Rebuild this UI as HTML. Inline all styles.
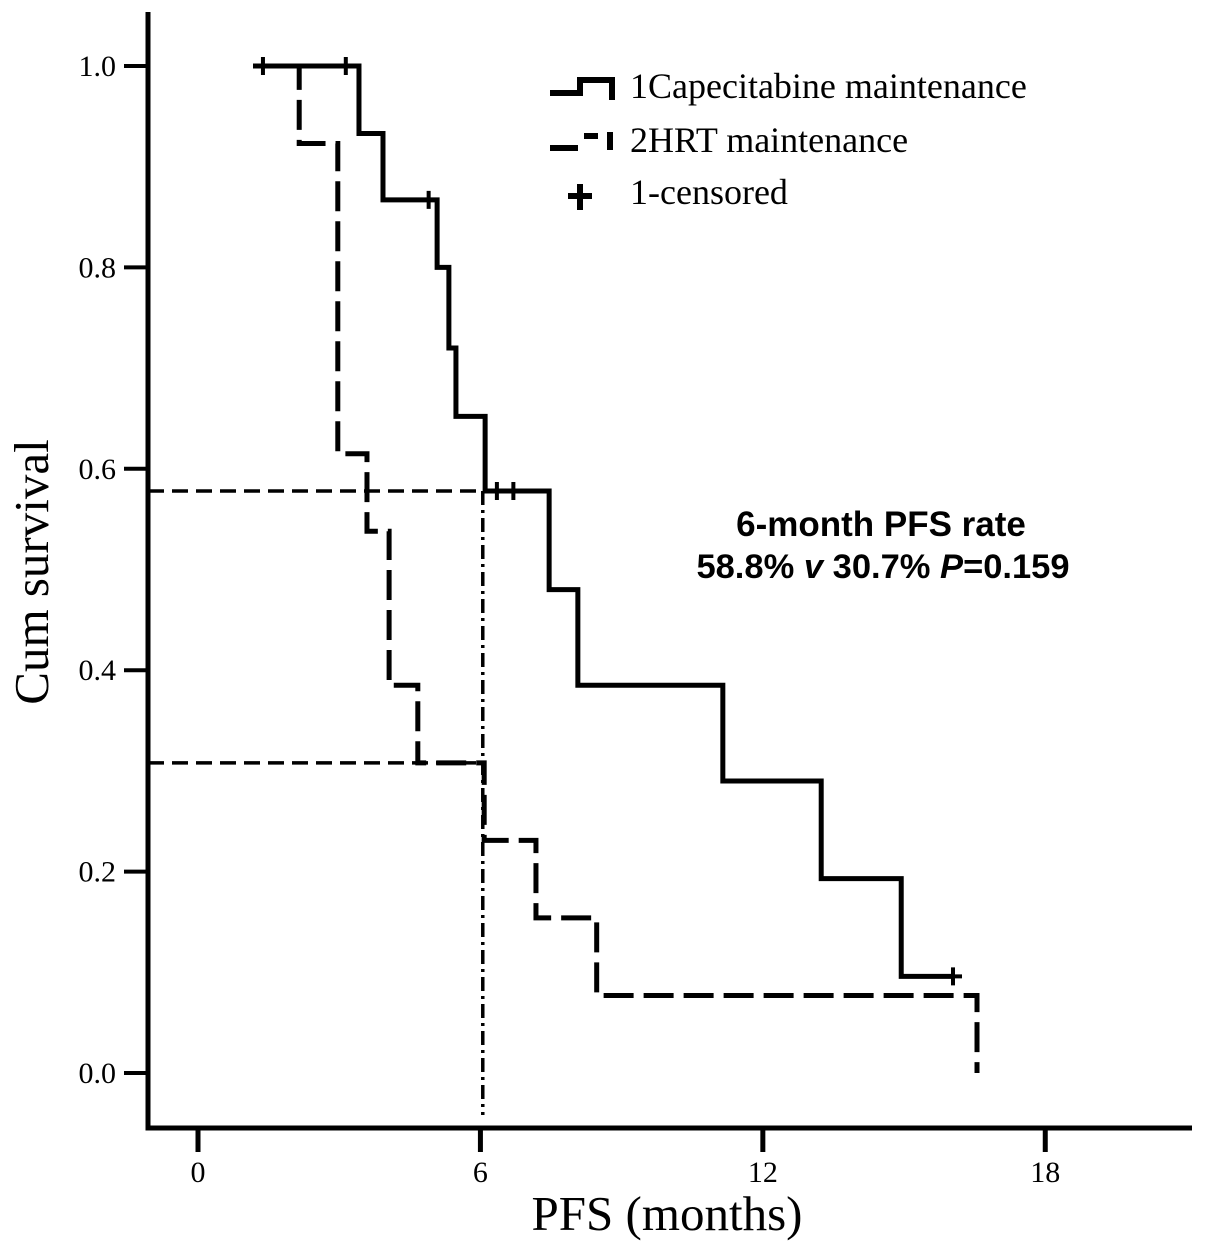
<!DOCTYPE html>
<html><head><meta charset="utf-8"><style>
html,body{margin:0;padding:0;background:#fff;}
svg{display:block;}
text{font-family:"Liberation Serif",serif;fill:#000;}
</style></head><body>
<svg id="chart" width="1205" height="1253" viewBox="0 0 1205 1253">
<g id="axes"></g>
<g id="plot"></g>
<g id="legend">
  <path d="M550,93 H580 V80 H612 V100" fill="none" stroke="#000" stroke-width="6"/>
  <text x="630" y="98" font-size="36">1Capecitabine maintenance</text>
  <path d="M550,148 H578 M584,136 H598 M610,132 V150" fill="none" stroke="#000" stroke-width="6"/>
  <text x="630" y="152" font-size="36">2HRT maintenance</text>
  <path d="M568,196 H592 M580,184 V210" stroke="#000" stroke-width="6"/>
  <text x="630" y="204" font-size="36">1-censored</text>
</g>
<text x="881" y="536" font-size="35" font-weight="bold" text-anchor="middle" style="font-family:'Liberation Sans',sans-serif">6-month PFS rate</text>
<text x="883" y="578" font-size="34.5" font-weight="bold" text-anchor="middle" style="font-family:'Liberation Sans',sans-serif">58.8% <tspan font-style="italic">v</tspan> 30.7% <tspan font-style="italic">P</tspan>=0.159</text>
<text x="667" y="1230" font-size="49" text-anchor="middle">PFS (months)</text>
<text transform="translate(48,572) rotate(-90)" font-size="49" text-anchor="middle">Cum survival</text>
</svg>
<script>
const xTicks=[0,6,12,18];
const yTicks=[0,0.2,0.4,0.6,0.8,1.0];
const capeTimes=[1.17,3.42,3.93,5.08,5.33,5.48,6.1,7.46,8.07,11.15,13.24,14.94,16.04];
const capeSurv=[1.0,0.933,0.867,0.80,0.72,0.652,0.578,0.48,0.385,0.29,0.193,0.096,0.096];
const capeCensor=[1.38,3.14,4.9,6.35,6.7,16.04];
const capeCensorSurv=[1.0,1.0,0.867,0.578,0.578,0.096];
const hrtTimes=[1.17,2.15,2.97,3.59,4.06,4.67,6.08,7.18,8.47,16.55];
const hrtSurv=[1.0,0.923,0.615,0.538,0.385,0.308,0.231,0.154,0.077,0.0];
const refTime=[6.05];
const refRates=[0.578,0.308];

const X=t=>198+47.07*t;
const Y=v=>1073-1007*v;
const NS="http://www.w3.org/2000/svg";
function mk(tag,attrs,parent){const e=document.createElementNS(NS,tag);for(const k in attrs)e.setAttribute(k,attrs[k]);parent.appendChild(e);return e;}
const axes=document.getElementById('axes'),plot=document.getElementById('plot');

let a=mk('path',{d:'M148,12 V1128 H1192',fill:'none',stroke:'#000','stroke-width':5},axes);


yTicks.forEach(v=>{
  const t=mk('line',{x1:124,x2:148,y1:Y(v),y2:Y(v),stroke:'#000','stroke-width':4},axes);
  
  
  const l=mk('text',{x:116,y:Y(v)+10,'font-size':30,'text-anchor':'end'},axes);
  l.textContent=v.toFixed(1);
  
  
});
xTicks.forEach(v=>{
  const t=mk('line',{x1:X(v),x2:X(v),y1:1128,y2:1152,stroke:'#000','stroke-width':5},axes);
  
  
  const l=mk('text',{x:X(v),y:1182,'font-size':30,'text-anchor':'middle'},axes);
  l.textContent=v;
  
  
});
refRates.forEach((r,i)=>{
  const l=mk('line',{x1:148,x2:X(refTime[0])+3,y1:Y(r),y2:Y(r),stroke:'#000','stroke-width':3.5,'stroke-dasharray':'16 8'},plot);
  
  
});
let v=mk('line',{x1:X(refTime[0]),x2:X(refTime[0]),y1:Y(refRates[0]),y2:1115,stroke:'#000','stroke-width':3.5,'stroke-dasharray':'14 5 3 5'},plot);



function stepPath(ts,ss){
  let d='M'+X(ts[0])+','+Y(ss[0]);
  for(let i=1;i<ts.length;i++){d+=' H'+X(ts[i])+' V'+Y(ss[i]);}
  return d;
}
let c=mk('path',{d:stepPath(capeTimes,capeSurv),fill:'none',stroke:'#000','stroke-width':5},plot);


let h=mk('path',{d:stepPath(hrtTimes,hrtSurv),fill:'none',stroke:'#000','stroke-width':5,'stroke-dasharray':'30 10'},plot);


capeCensor.forEach((t,i)=>{
  const m=mk('path',{d:`M${X(t)-9},${Y(capeCensorSurv[i])} h18 M${X(t)},${Y(capeCensorSurv[i])-9} v18`,stroke:'#000','stroke-width':4},plot);
  
  
});
</script>
</body></html>
